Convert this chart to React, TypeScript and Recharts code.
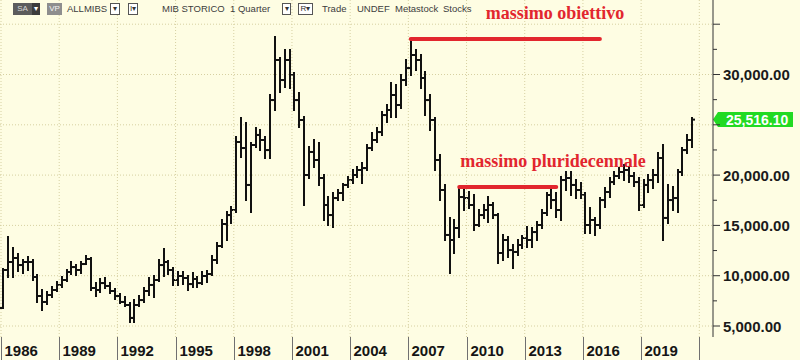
import React from 'react';
import { ComposedChart, Bar, XAxis, YAxis, CartesianGrid, ReferenceLine } from 'recharts';

// quarterly OHLC, 1986Q1 .. 2021Q3
const FIRST_YEAR = 1986;
const QUARTER_COUNT = 146; // axis runs to 2022Q2, the last quarters are empty

const OPEN = [
  6790, 10570, 11360, 11760, 11060, 11360, 11360, 9870, 7980, 7390,
  8080, 8580, 9080, 9570, 10370, 10860, 10570, 11160, 11660, 8780,
  8580, 9270, 8980, 8480, 7980, 7390, 7090, 5800, 7090, 7580,
  8480, 9080, 9570, 11060, 11360, 10570, 9570, 9970, 9770, 9170,
  9670, 9270, 9970, 10170, 11560, 12950, 15140, 16030, 16530, 23290,
  22690, 19020, 22990, 23990, 23490, 22490, 27460, 31440, 29450, 31440,
  29950, 27460, 25480, 20010, 22300, 21500, 19710, 17030, 16030, 17720,
  18220, 19020, 19510, 20010, 20510, 20700, 22690, 23490, 24280, 25970,
  26470, 27960, 26970, 29450, 30640, 31940, 31440, 29650, 27460, 25480,
  21500, 18520, 14050, 13550, 14740, 17820, 17720, 17030, 15040, 16030,
  16530, 17030, 16030, 12260, 13550, 12550, 12360, 13050, 13750, 13550,
  14340, 15040, 16230, 18020, 17520, 16530, 19510, 19710, 19020, 18520,
  18020, 15040, 15540, 15040, 17520, 18320, 19310, 19910, 20310, 20510,
  19910, 19310, 17030, 19020, 19510, 20010, 21700, 15740, 17520, 17720,
  20310, 22490, 23490,
];
const HIGH = [
  10670, 13850, 12750, 12160, 11560, 11860, 11560, 10070, 8580, 8380,
  8880, 9370, 9870, 10570, 11360, 11060, 11360, 11960, 11760, 9270,
  9670, 9770, 9270, 8680, 8180, 7880, 7290, 7580, 7980, 8780,
  9770, 9970, 11560, 12650, 11460, 10770, 10370, 10370, 9970, 10270,
  9870, 10370, 10470, 11960, 13250, 15540, 16330, 16830, 23790, 25680,
  25180, 23190, 24680, 24480, 23790, 27960, 33730, 31640, 32430, 32430,
  30150, 28160, 25770, 22790, 23490, 23190, 20010, 17820, 18220, 18520,
  19110, 19810, 20510, 20800, 21200, 22990, 24180, 24680, 26270, 26970,
  29150, 28950, 29950, 31440, 33530, 32430, 31940, 30250, 27960, 25680,
  22000, 19020, 15740, 15540, 18720, 18520, 18320, 18020, 16530, 17030,
  17820, 17230, 16130, 14050, 13850, 13050, 13550, 13950, 14840, 14740,
  15340, 16530, 18220, 18720, 18220, 19810, 20310, 20310, 19510, 19210,
  18220, 16730, 15740, 17720, 18720, 19710, 20310, 20700, 21000, 20800,
  20210, 19710, 19510, 20010, 20510, 22200, 22990, 19020, 18820, 20510,
  22690, 23990, 25680,
];
const LOW = [
  6790, 9870, 9870, 10470, 10270, 10570, 9570, 7390, 6590, 7190,
  7880, 8480, 8880, 9470, 10170, 10070, 10270, 11160, 8580, 7980,
  8380, 8780, 8280, 7680, 7290, 6990, 5400, 5400, 6990, 7390,
  8080, 7880, 9470, 9970, 10170, 9080, 9080, 9170, 8580, 8880,
  8880, 9170, 9370, 10070, 11260, 12850, 13550, 15240, 16330, 21800,
  17520, 16330, 22790, 22490, 21700, 21700, 26470, 28260, 28760, 28660,
  26470, 24780, 17030, 19710, 20800, 19020, 15540, 15040, 14840, 17520,
  17520, 18820, 19210, 19810, 19210, 20510, 22490, 23290, 23990, 25280,
  25770, 25770, 26670, 28950, 29950, 30450, 28660, 25970, 24480, 20510,
  17520, 13550, 10270, 12260, 13850, 16530, 16730, 14540, 14940, 15740,
  15340, 15740, 11260, 11560, 11860, 10770, 12060, 12750, 12850, 12850,
  13550, 14740, 16030, 16730, 15830, 15540, 18520, 18020, 17720, 17720,
  14240, 14240, 14050, 14740, 16830, 17820, 19110, 19710, 19510, 19310,
  18920, 16530, 16830, 18320, 18720, 19310, 13550, 15240, 16530, 16330,
  20010, 22200, 22790,
];
const CLOSE = [
  10570, 11360, 11760, 11060, 11360, 11360, 9870, 7980, 7390, 8080,
  8580, 9080, 9570, 10370, 10860, 10570, 11160, 11660, 8780, 8580,
  9270, 8980, 8480, 7980, 7390, 7090, 5800, 7090, 7580, 8480,
  9080, 9570, 11060, 11360, 10570, 9570, 9970, 9770, 9170, 9670,
  9270, 9970, 10170, 11560, 12950, 15140, 16030, 16530, 23290, 22690,
  19020, 22990, 23990, 23490, 22490, 27460, 31440, 29450, 31440, 29950,
  27460, 25480, 20010, 22300, 21500, 19710, 17030, 16030, 17720, 18220,
  19020, 19510, 20010, 20510, 20700, 22690, 23490, 24280, 25970, 26470,
  27960, 26970, 29450, 30640, 31940, 31440, 29650, 27460, 25480, 21500,
  18520, 14050, 13550, 14740, 17820, 17720, 17030, 15040, 16030, 16530,
  17030, 16030, 12260, 13550, 12550, 12360, 13050, 13750, 13550, 14340,
  15040, 16230, 18020, 17520, 16530, 19510, 19710, 19020, 18520, 18020,
  15040, 15540, 15040, 17520, 18320, 19310, 19910, 20310, 20510, 19910,
  19310, 17030, 19020, 19510, 20010, 21700, 15740, 17520, 17720, 20310,
  22490, 23490, 25516.1,
];

const YEAR_LABELS = ['1986', '1989', '1992', '1995', '1998', '2001', '2004', '2007', '2010', '2013', '2016', '2019'];
const SEPARATOR_YEARS = [...YEAR_LABELS, '2022'];

const Y_TICKS = [5000, 7500, 10000, 12500, 15000, 17500, 20000, 22500, 25000, 27500, 30000, 32500, 35000];
// 25,000 sits under the last-price tag, so it is not written
const Y_LABELS = [5000, 10000, 15000, 20000, 30000];
const GRID_VALUES = [5000, 10000, 15000, 20000, 25000, 30000, 35000];

// red annotations
const NOTE_TEXT = ['massimo obiettivo', 'massimo pluridecennale'];
const NOTE_LEVEL = [33530, 18820];
const NOTE_FROM = ['2007Q1', '2009Q3'];
const NOTE_TO = ['2016Q4', '2014Q3'];
const NOTE_DX = [75, 1];

const LAST_CLOSE = CLOSE[CLOSE.length - 1];

const QUARTERS: string[] = [];
for (let i = 0; i < QUARTER_COUNT; i++) {
  QUARTERS.push(`${FIRST_YEAR + Math.floor(i / 4)}Q${(i % 4) + 1}`);
}

const data = QUARTERS.map((q, i) =>
  i < CLOSE.length
    ? { q, o: OPEN[i], h: HIGH[i], l: LOW[i], c: CLOSE[i], range: [LOW[i], HIGH[i]] }
    : { q },
);

const W = 800;
const H = 360;
const AXIS_W = 87;
const AXIS_H = 23;
const BG = '#FEFDE3';
const GRID = '#D6D0A2';
const RED = '#E2262E';
const SANS = '"Liberation Sans", Arial, sans-serif';

const fmt = (v: number) =>
  v.toLocaleString('en-US', { minimumFractionDigits: 2, maximumFractionDigits: 2 });

function OhlcBar(props: any) {
  const { x, y, width, height, payload } = props;
  if (!payload || payload.h == null) return null;
  const top = Math.min(y, y + height);
  const bot = Math.max(y, y + height);
  const k = payload.h === payload.l ? 0 : (bot - top) / (payload.h - payload.l);
  const yo = top + (payload.h - payload.o) * k;
  const yc = top + (payload.h - payload.c) * k;
  const cx = Math.round(x + width / 2);
  return (
    <g stroke="#111" strokeWidth={2}>
      <line x1={cx} x2={cx} y1={top - 1} y2={bot + 1} />
      <line x1={cx - 3} x2={cx} y1={yo} y2={yo} />
      <line x1={cx} x2={cx + 3} y1={yc} y2={yc} />
    </g>
  );
}

function XTick(props: any) {
  const { x, y, payload } = props;
  const v = String(payload.value);
  const yr = v.slice(0, 4);
  if (!v.endsWith('Q1') || !SEPARATOR_YEARS.includes(yr)) return <g />;
  const off = payload.offset ?? 2.4;
  const sx = Math.round(x - off) + 0.5;
  return (
    <g>
      <line x1={sx} x2={sx} y1={y} y2={y + AXIS_H} stroke="#707070" />
      {YEAR_LABELS.includes(yr) && (
        <text x={sx + 3} y={y + 19} fontSize={15} fontWeight="bold" fill="#151515" fontFamily={SANS}>
          {yr}
        </text>
      )}
    </g>
  );
}

function YTick(props: any) {
  const { x, y, payload } = props;
  const v = Number(payload.value);
  const major = v % 5000 === 0;
  return (
    <g>
      <line x1={x} x2={x + (major ? 7 : 4)} y1={y} y2={y} stroke="#333" />
      {Y_LABELS.includes(v) && (
        <text x={x + 10} y={y + 5.5} fontSize={15} fontWeight="bold" fill="#1a1a1a" fontFamily={SANS}>
          {fmt(v)}
        </text>
      )}
    </g>
  );
}

function noteLabel(text: string, dx: number) {
  return (p: any) => {
    const vb = p.viewBox || {};
    return (
      <text
        x={vb.x + dx}
        y={vb.y - 20}
        fontSize={18}
        fontWeight="bold"
        fill={RED}
        fontFamily='"Liberation Serif", "Times New Roman", serif'
      >
        {text}
      </text>
    );
  };
}

function lastTag(p: any) {
  const vb = p.viewBox || {};
  const x0 = vb.x + vb.width;
  const y = vb.y;
  const pts = `${x0},${y} ${x0 + 5},${y - 7.5} ${x0 + 80},${y - 7.5} ${x0 + 80},${y + 7.5} ${x0 + 5},${y + 7.5}`;
  return (
    <g>
      <polygon points={pts} fill="#22DA22" />
      <text x={x0 + 13} y={y + 5} fontSize={14} fontWeight="bold" fill="#fff" fontFamily={SANS}>
        {fmt(LAST_CLOSE)}
      </text>
    </g>
  );
}

function HeaderBox({ x, w, bg, fg, border, children }: any) {
  return (
    <div
      style={{
        position: 'absolute', left: x, top: 3, width: w, height: 12, boxSizing: 'border-box',
        background: bg, color: fg, border: border ? '1px solid #555' : 'none',
        fontSize: 8, lineHeight: border ? '10px' : '12px', textAlign: 'center',
      }}
    >
      {children}
    </div>
  );
}

function Header() {
  const word = (t: string, x: number) => (
    <div style={{ position: 'absolute', left: x, top: 3, fontSize: 9.5, lineHeight: '12px', color: '#3c3c3c' }}>{t}</div>
  );
  return (
    <div style={{ position: 'absolute', left: 0, top: 0, width: 500, height: 18, fontFamily: SANS }}>
      <HeaderBox x={13} w={19} bg="#5c5c5c" fg="#d8d8d8">SA</HeaderBox>
      <HeaderBox x={32} w={8} bg="#3c3c3c" fg="#fff">▾</HeaderBox>
      <HeaderBox x={47} w={15} bg="#8e8e8e" fg="#f4f4f4">VP</HeaderBox>
      {word('ALLMIBS', 67)}
      <HeaderBox x={110} w={10} bg="#fff" fg="#333" border>▾</HeaderBox>
      <HeaderBox x={128} w={10} bg="#fff" fg="#333" border>I▾</HeaderBox>
      {word('MIB STORICO', 162)}
      {word('1 Quarter', 230)}
      <HeaderBox x={282} w={9} bg="#fff" fg="#333" border>▾</HeaderBox>
      <HeaderBox x={298} w={15} bg="#fff" fg="#333" border>R▾</HeaderBox>
      {word('Trade', 322)}
      {word('UNDEF', 357)}
      {word('Metastock', 395)}
      {word('Stocks', 443)}
    </div>
  );
}

export default function App() {
  return (
    <div style={{ position: 'absolute', left: 0, top: 0, width: W, height: H, background: BG, fontFamily: SANS }}>
      <ComposedChart width={W} height={H} data={data} margin={{ top: 0, right: 0, bottom: 0, left: 0 }}>
        <CartesianGrid vertical={false} horizontalValues={GRID_VALUES} stroke={GRID} strokeDasharray="1 2" />
        {SEPARATOR_YEARS.map((yr) => (
          <ReferenceLine
            key={yr}
            x={`${yr}Q1`}
            position="start"
            stroke={GRID}
            strokeDasharray="1 2"
            ifOverflow="visible"
          />
        ))}
        <XAxis
          dataKey="q"
          type="category"
          interval={0}
          height={AXIS_H}
          tickLine={false}
          axisLine={false}
          tickSize={0}
          tickMargin={0}
          padding={{ left: 1, right: 4 }}
          tick={XTick}
        />
        <YAxis
          orientation="right"
          type="number"
          domain={[3907, 37406]}
          allowDataOverflow
          ticks={Y_TICKS}
          interval={0}
          width={AXIS_W}
          tickLine={false}
          tickSize={0}
          tickMargin={0}
          axisLine={{ stroke: '#333' }}
          tick={YTick}
        />
        <Bar dataKey="range" shape={OhlcBar} isAnimationActive={false} />
        {NOTE_TEXT.map((t, i) => (
          <ReferenceLine
            key={t}
            segment={[{ x: NOTE_FROM[i], y: NOTE_LEVEL[i] }, { x: NOTE_TO[i], y: NOTE_LEVEL[i] }]}
            stroke={RED}
            strokeWidth={4}
            strokeLinecap="round"
            ifOverflow="visible"
            label={noteLabel(t, NOTE_DX[i])}
          />
        ))}
        <ReferenceLine y={LAST_CLOSE} stroke="none" ifOverflow="visible" label={lastTag} />
      </ComposedChart>
      <Header />
    </div>
  );
}
